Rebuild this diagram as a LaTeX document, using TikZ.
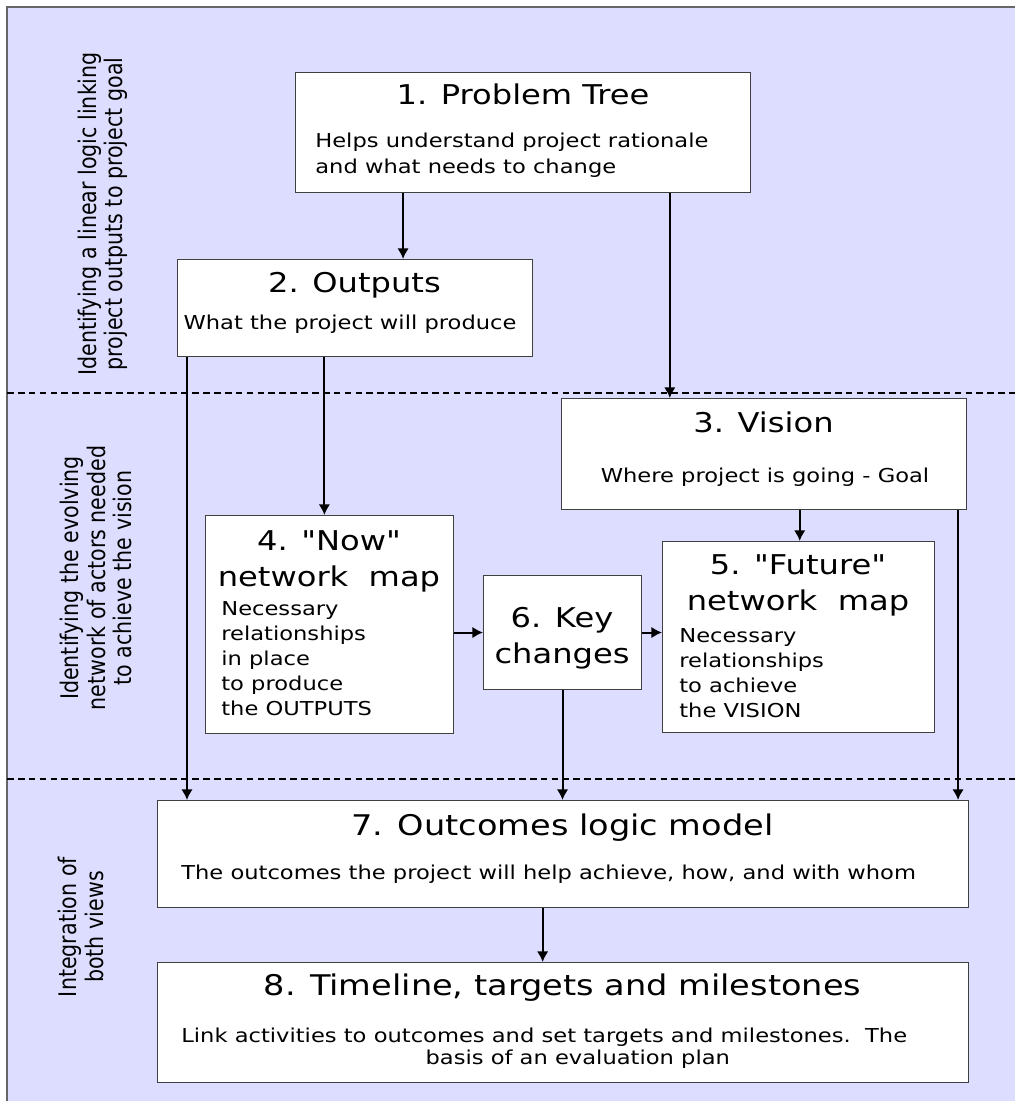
\documentclass[tikz,border=0pt]{standalone}
\usepackage{fontspec}
\setmainfont{DejaVu Sans}[FakeStretch=1.18, Ligatures=TeXOff]
\newfontfamily\sidefont{DejaVu Sans}[FakeStretch=0.85]
\usetikzlibrary{calc, arrows.meta}
\definecolor{bgblue}{RGB}{221,221,255}
\newcommand{\boxtitle}{\fontsize{15.5}{21}\selectfont}
\newcommand{\bigtitle}{\fontsize{16.2}{21}\selectfont}
\newcommand{\boxtext}{\fontsize{10.9}{14.3}\selectfont}
\newcommand{\linesL}[1]{\begin{tabular}[t]{@{}l@{}}#1\end{tabular}}
\newcommand{\linesC}[1]{\begin{tabular}[t]{@{}c@{}}#1\end{tabular}}
\tikzstyle{box}=[draw=black!75, fill=white, line width=0.6pt, anchor=north west, inner sep=0pt]
\tikzstyle{ttl}=[inner sep=0pt, anchor=base, font=\boxtitle]
\tikzstyle{txt}=[inner sep=0pt, anchor=base, font=\boxtext]
\tikzstyle{txtl}=[inner sep=0pt, anchor=base west, font=\boxtext]
\tikzstyle{side}=[rotate=90, align=center, inner sep=0pt, font=\sidefont\fontsize{13.8}{15}\selectfont]
\tikzstyle{arr}=[->, line width=1.15pt]
\tikzstyle{sep}=[dash pattern=on 3.8pt off 2.4pt, line width=0.9pt]
\begin{document}
\begin{tikzpicture}[x=0.02cm, y=-0.02cm, >={Latex[length=6pt,width=6.5pt]}]
      \useasboundingbox (0,0) rectangle (1015,1101);
      \fill[bgblue] (7,7) rectangle (1015,1101);
      \draw[black!60, line width=1.2pt] (7,1101) -- (7,7) -- (1015,7);
      \draw[sep] (7,393) -- (1015,393);
      \draw[sep] (7,779) -- (1015,779);

      \node[side] (sidea) at (103,214) {Identifying a linear logic linking\\project outputs to project goal};
      \node[side] (sideb) at (96,578) {Identifying the evolving\\network of actors needed\\to achieve the vision};
      \node[side] (sidec) at (81,927) {Integration of\\both views};

      \node[box, minimum width=9.1cm, minimum height=2.4cm] (prob) at (295,72) {};
      \node[box, minimum width=7.1cm, minimum height=1.94cm] (outp) at (177,259) {};
      \node[box, minimum width=8.1cm, minimum height=2.22cm] (vis) at (561,398) {};
      \node[box, minimum width=4.96cm, minimum height=4.36cm] (now) at (205,515) {};
      \node[box, minimum width=3.16cm, minimum height=2.28cm] (keych) at (483,575) {};
      \node[box, minimum width=5.44cm, minimum height=3.82cm] (fut) at (662,541) {};
      \node[box, minimum width=16.22cm, minimum height=2.14cm] (outc) at (157,800) {};
      \node[box, minimum width=16.22cm, minimum height=2.4cm] (plan) at (157,962) {};

      \node[ttl] (probt) at (523,105) {1. Problem Tree};
      \node[txtl] (probx) at (315,148) {\linesL{Helps understand project rationale\\and what needs to change}};
      \node[ttl] (outpt) at (354.5,293) {2. Outputs};
      \node[txt] (outpx) at (350,329) {What the project will produce};
      \node[ttl] (vist) at (763.5,432) {3. Vision};
      \node[txt] (visx) at (765,482) {Where project is going - Goal};
      \node[ttl] (nowt) at (329,550) {\linesC{4. "Now"\\network\ \ map}};
      \node[txtl] (nowx) at (221,615) {\linesL{Necessary\\relationships\\in place\\to produce\\the OUTPUTS}};
      \node[ttl] (keyt) at (562,627) {\linesC{6. Key\\changes}};
      \node[ttl] (futt) at (798,574) {\linesC{5. "Future"\\network\ \ map}};
      \node[txtl] (futx) at (679,642) {\linesL{Necessary\\relationships\\to achieve\\the VISION}};
      \node[ttl, font=\bigtitle] (outct) at (562.5,835) {7. Outcomes logic model};
      \node[txtl] (outcx) at (181,879) {The outcomes the project will help achieve, how, and with whom};
      \node[ttl, font=\bigtitle] (plant) at (562.5,995) {8. Timeline, targets and milestones};
      \node[txtl, font=\fontsize{10.9}{13}\selectfont] (planx) at (181,1042) {\linesL{Link activities to outcomes and set targets and milestones.\ \ The\\\hspace*{139pt}basis of an evaluation plan}};

      \path ($(prob.south west)!.237!(prob.south east)$) coordinate (pa)
            ($(prob.south west)!.822!(prob.south east)$) coordinate (pb)
            ($(outp.south west)!.028!(outp.south east)$) coordinate (oa)
            ($(outp.south west)!.414!(outp.south east)$) coordinate (ob)
            ($(vis.south west)!.588!(vis.south east)$) coordinate (va)
            ($(vis.south west)!.978!(vis.south east)$) coordinate (vb)
            ($(outc.south west)!.475!(outc.south east)$) coordinate (ca);
      \draw[arr] (pa) -- (pa |- outp.north);
      \draw[arr] (pb) -- (pb |- vis.north);
      \draw[arr] (oa) -- (oa |- outc.north);
      \draw[arr] (ob) -- (ob |- now.north);
      \draw[arr] (va) -- (va |- fut.north);
      \draw[arr] (vb) -- (vb |- outc.north);
      \draw[arr] (now.east |- keych.west) -- (keych.west);
      \draw[arr] (keych.east) -- (keych.east -| fut.west);
      \draw[arr] (keych.south) -- (keych.south |- outc.north);
      \draw[arr] (ca) -- (ca |- plan.north);
\end{tikzpicture}
\end{document}
